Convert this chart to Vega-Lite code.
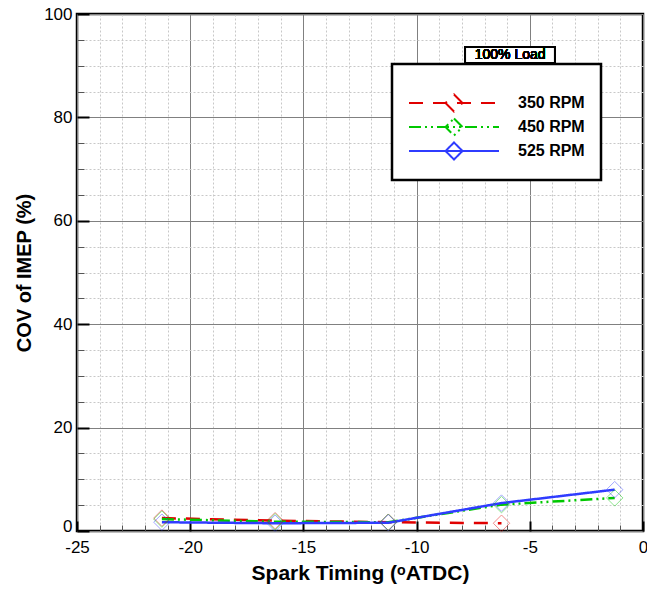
{
  "$schema": "https://vega.github.io/schema/vega-lite/v6.json",
  "width": 566,
  "height": 517,
  "autosize": {"type": "none"},
  "padding": {"left": 77, "top": 14, "right": 4, "bottom": 62},
  "background": "white",
  "config": {
    "view": {"stroke": "black", "strokeWidth": 2.5},
    "font": "Liberation Sans",
    "legend": {"strokeWidth": 2.5}
  },
  "data": {
    "values": [
      {"rpm": "350 RPM", "timing": -21.25, "cov": 2.5},
      {"rpm": "350 RPM", "timing": -16.25, "cov": 2.0},
      {"rpm": "350 RPM", "timing": -11.25, "cov": 1.7},
      {"rpm": "350 RPM", "timing": -6.25, "cov": 1.5},
      {"rpm": "450 RPM", "timing": -21.25, "cov": 2.3},
      {"rpm": "450 RPM", "timing": -16.25, "cov": 1.8},
      {"rpm": "450 RPM", "timing": -11.25, "cov": 1.7},
      {"rpm": "450 RPM", "timing": -6.25, "cov": 5.1},
      {"rpm": "450 RPM", "timing": -1.25, "cov": 6.4},
      {"rpm": "525 RPM", "timing": -21.25, "cov": 1.7},
      {"rpm": "525 RPM", "timing": -16.25, "cov": 1.5},
      {"rpm": "525 RPM", "timing": -11.25, "cov": 1.6},
      {"rpm": "525 RPM", "timing": -6.25, "cov": 5.4},
      {"rpm": "525 RPM", "timing": -1.25, "cov": 8.0}
    ]
  },
  "resolve": {"axis": {"x": "independent", "y": "independent"}},
  "layer": [
    {
      "mark": {"type": "line", "strokeWidth": 2.5, "clip": true},
      "encoding": {
        "x": {
          "field": "timing", "type": "quantitative",
          "scale": {"domain": [-25, 0], "nice": false, "zero": false},
          "axis": {
            "orient": "bottom",
            "values": [-25, -20, -15, -10, -5, 0],
            "labelExpr": "datum.value < 0 ? '-' + abs(datum.value) : '' + datum.value",
            "title": "Spark Timing (ᵒATDC)",
            "titleFont": "Liberation Sans", "titleFontSize": 21, "titleFontWeight": "bold", "titleColor": "black",
            "titlePadding": 7,
            "labelFont": "Liberation Sans", "labelFontSize": 17, "labelColor": "black",
            "labelPadding": 18, "labelFlush": false,
            "domain": false,
            "tickSize": -10, "tickWidth": 2, "tickColor": "black",
            "grid": true, "gridColor": "#808080", "gridWidth": 1
          }
        },
        "y": {
          "field": "cov", "type": "quantitative",
          "scale": {"domain": [0, 100], "nice": false},
          "axis": {
            "orient": "left",
            "values": [0, 20, 40, 60, 80, 100],
            "title": "COV of IMEP (%)",
            "titleFont": "Liberation Sans", "titleFontSize": 20, "titleFontWeight": "bold", "titleColor": "black",
            "titlePadding": 9,
            "labelFont": "Liberation Sans", "labelFontSize": 17, "labelColor": "black",
            "labelPadding": 17, "labelFlush": false,
            "labelBaseline": {"condition": {"test": "datum.value == 0", "value": "alphabetic"}, "value": "middle"},
            "domain": false,
            "tickSize": -12, "tickWidth": 2, "tickColor": "black",
            "grid": true, "gridColor": "#808080", "gridWidth": 1
          }
        },
        "color": {
          "field": "rpm", "type": "nominal",
          "scale": {"domain": ["350 RPM", "450 RPM", "525 RPM"], "range": ["#e00000", "#00c800", "#2f3cff"]},
          "legend": {
            "orient": "none", "legendX": 315, "legendY": 50,
            "title": " ", "titleFontSize": 12, "titlePadding": 0,
            "direction": "vertical",
            "fillColor": "white", "strokeColor": "black",
            "padding": 16,
            "symbolType": "M-1,0L8,0M3.5,-0.85L4.35,0L3.5,0.85L2.65,0Z",
            "symbolSize": 400,
            "symbolStrokeWidth": 2,
            "labelFont": "Liberation Sans", "labelFontSize": 16, "labelFontWeight": "bold", "labelColor": "black",
            "labelOffset": 88,
            "rowPadding": -4
          }
        },
        "strokeDash": {
          "field": "rpm", "type": "nominal",
          "scale": {"domain": ["350 RPM", "450 RPM", "525 RPM"], "range": [[14, 10], [12, 4, 2, 4, 2, 4], [1, 0]]},
          "legend": {
            "orient": "none", "legendX": 315, "legendY": 50,
            "title": " ", "titleFontSize": 12, "titlePadding": 0,
            "direction": "vertical",
            "fillColor": "white", "strokeColor": "black",
            "padding": 16,
            "symbolType": "M-1,0L8,0M3.5,-0.85L4.35,0L3.5,0.85L2.65,0Z",
            "symbolSize": 400,
            "symbolStrokeWidth": 2,
            "labelFont": "Liberation Sans", "labelFontSize": 16, "labelFontWeight": "bold", "labelColor": "black",
            "labelOffset": 88,
            "rowPadding": -4
          }
        }
      }
    },
    {
      "mark": {"type": "point", "shape": "diamond", "filled": false, "size": 270, "strokeWidth": 1, "opacity": 0.45},
      "encoding": {
        "x": {
          "field": "timing", "type": "quantitative",
          "scale": {"domain": [-25, 0], "nice": false, "zero": false},
          "axis": {
            "orient": "bottom",
            "values": [-24, -23, -22, -21, -19, -18, -17, -16, -14, -13, -12, -11, -9, -8, -7, -6, -4, -3, -2, -1],
            "title": null, "labels": false, "domain": false,
            "tickSize": -6, "tickWidth": 1, "tickColor": "#555555",
            "grid": true, "gridColor": "#c8c8c8", "gridWidth": 1, "gridDash": [2, 2]
          }
        },
        "y": {
          "field": "cov", "type": "quantitative",
          "scale": {"domain": [0, 100], "nice": false},
          "axis": {
            "orient": "left",
            "values": [5, 10, 15, 25, 30, 35, 45, 50, 55, 65, 70, 75, 85, 90, 95],
            "title": null, "labels": false, "domain": false,
            "tickSize": -7, "tickWidth": 1, "tickColor": "#555555",
            "grid": true, "gridColor": "#c8c8c8", "gridWidth": 1, "gridDash": [2, 2]
          }
        },
        "color": {
          "field": "rpm", "type": "nominal",
          "scale": {"domain": ["350 RPM", "450 RPM", "525 RPM"], "range": ["#e00000", "#00c800", "#2f3cff"]},
          "legend": null
        }
      }
    },
    {
      "mark": {"type": "rect", "fill": "white", "stroke": "black", "strokeWidth": 2},
      "encoding": {
        "x": {"datum": -7.86, "type": "quantitative", "axis": null},
        "x2": {"datum": -3.89},
        "y": {"datum": 93.6, "type": "quantitative", "axis": null},
        "y2": {"datum": 90.5}
      }
    },
    {
      "mark": {"type": "text", "text": "100% Load", "font": "Liberation Sans", "fontSize": 14, "color": "black", "align": "center", "baseline": "middle"},
      "encoding": {
        "x": {"datum": -5.87, "type": "quantitative", "axis": null},
        "y": {"datum": 92.05, "type": "quantitative", "axis": null}
      }
    }
  ]
}
